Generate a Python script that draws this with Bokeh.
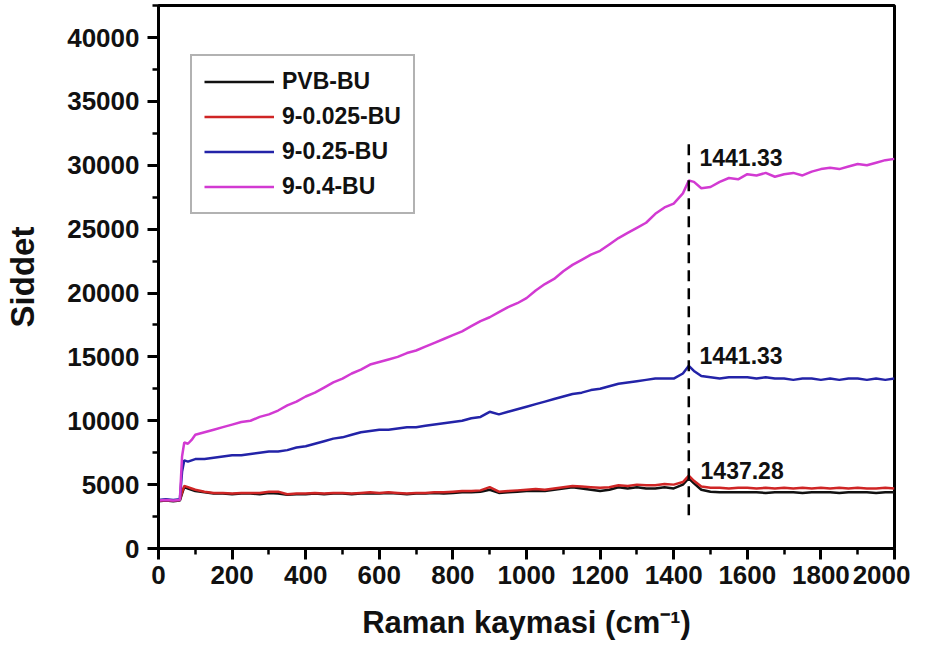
from bokeh.plotting import figure
from bokeh.models import Range1d, Label, FixedTicker, Legend, LegendItem
from bokeh.embed import file_html
from bokeh.resources import INLINE

# ---- data ----
x = [0, 20, 40, 58, 64, 70, 80, 90,
     100, 125, 150, 175, 200, 225, 250, 275, 300, 325, 350, 375,
     400, 425, 450, 475, 500, 525, 550, 575, 600, 625, 650, 675,
     700, 725, 750, 775, 800, 825, 850, 875, 900, 925, 950, 975,
     1000, 1025, 1050, 1075, 1100, 1125, 1150, 1175, 1200, 1225, 1250, 1275,
     1300, 1325, 1350, 1375, 1400, 1425, 1441, 1455, 1475,
     1500, 1525, 1550, 1575, 1600, 1625, 1650, 1675, 1700, 1725, 1750, 1775,
     1800, 1825, 1850, 1875, 1900, 1925, 1950, 1975, 2000]

pvb_bu = [3700, 3750, 3700, 3750, 4300, 4800, 4700, 4600,
          4500, 4400, 4300, 4300, 4250, 4300, 4300, 4250, 4350, 4300, 4200, 4250,
          4250, 4300, 4250, 4300, 4300, 4250, 4300, 4300, 4300, 4350, 4300, 4250,
          4300, 4300, 4350, 4300, 4350, 4400, 4400, 4450, 4600, 4350, 4400, 4450,
          4500, 4500, 4500, 4600, 4700, 4800, 4700, 4600, 4500, 4600, 4800, 4700,
          4800, 4700, 4700, 4800, 4700, 5000, 5500, 5100, 4600,
          4450, 4400, 4400, 4400, 4400, 4400, 4350, 4400, 4400, 4400, 4350, 4400,
          4400, 4400, 4350, 4400, 4400, 4400, 4350, 4400, 4400]

s_0025 = [3750, 3800, 3750, 3800, 4400, 4900, 4800, 4700,
          4600, 4450, 4350, 4350, 4300, 4350, 4350, 4350, 4450, 4450, 4250, 4300,
          4300, 4350, 4300, 4350, 4350, 4300, 4350, 4400, 4350, 4400, 4350, 4300,
          4350, 4350, 4400, 4400, 4450, 4500, 4500, 4550, 4800, 4450, 4500, 4550,
          4600, 4650, 4600, 4700, 4800, 4900, 4850, 4800, 4750, 4800, 4950, 4900,
          5000, 4950, 4950, 5050, 5000, 5200, 5700, 5300, 4850,
          4750, 4750, 4700, 4750, 4750, 4700, 4750, 4700, 4750, 4700, 4750, 4700,
          4750, 4700, 4750, 4700, 4750, 4700, 4700, 4750, 4700]

s_025 = [3800, 3850, 3800, 3850, 6000, 6900, 6800, 6900,
         7000, 7000, 7100, 7200, 7300, 7300, 7400, 7500, 7600, 7600, 7700, 7900,
         8000, 8200, 8400, 8600, 8700, 8900, 9100, 9200, 9300, 9300, 9400, 9500,
         9500, 9600, 9700, 9800, 9900, 10000, 10200, 10300, 10700, 10500, 10700, 10900,
         11100, 11300, 11500, 11700, 11900, 12100, 12200, 12400, 12500, 12700, 12900, 13000,
         13100, 13200, 13300, 13300, 13300, 13700, 14300, 13900, 13500,
         13400, 13300, 13400, 13400, 13400, 13300, 13400, 13300, 13300, 13200, 13300, 13300,
         13200, 13300, 13200, 13300, 13300, 13200, 13300, 13200, 13300]

s_04 = [3750, 3800, 3750, 3800, 7200, 8300, 8200, 8500,
        8900, 9100, 9300, 9500, 9700, 9900, 10000, 10300, 10500, 10800, 11200, 11500,
        11900, 12200, 12600, 13000, 13300, 13700, 14000, 14400, 14600, 14800, 15000, 15300,
        15500, 15800, 16100, 16400, 16700, 17000, 17400, 17800, 18100, 18500, 18900, 19200,
        19600, 20200, 20700, 21100, 21700, 22200, 22600, 23000, 23300, 23800, 24300, 24700,
        25100, 25500, 26200, 26700, 27000, 27800, 28800, 28700, 28200,
        28300, 28700, 29000, 28900, 29300, 29200, 29400, 29100, 29300, 29400, 29200, 29500,
        29700, 29800, 29700, 29900, 30100, 30000, 30200, 30400, 30500]

series_names = ["PVB-BU", "9-0.025-BU", "9-0.25-BU", "9-0.4-BU"]
series_values = [pvb_bu, s_0025, s_025, s_04]
series_colors = ["#111111", "#cf2525", "#2323a8", "#d23ad2"]

peak_x = 1441
peak_labels = ["1441.33", "1441.33", "1437.28"]
peak_label_y = [30600, 15100, 6100]
peak_label_x = [1470, 1470, 1473]
dash_y = (2600, 32000)

x_ticks = list(range(0, 2001, 200))
y_ticks = list(range(0, 40001, 5000))

FONT = "Liberation Sans"

p = figure(frame_width=736, frame_height=543, output_backend="svg",
           toolbar_location=None, x_range=Range1d(0, 2000), y_range=Range1d(0, 42505),
           min_border_left=158, min_border_right=16, min_border_top=5, min_border_bottom=97)

p.xgrid.visible = False
p.ygrid.visible = False
p.outline_line_color = "black"
p.outline_line_width = 3
p.background_fill_color = "white"
p.border_fill_color = "white"

items = []
for name, vals, col in zip(series_names, series_values, series_colors):
    r = p.line(x, vals, line_color=col, line_width=2.5)
    items.append(LegendItem(label=name, renderers=[r]))

p.segment(x0=[peak_x], y0=[dash_y[0]], x1=[peak_x], y1=[dash_y[1]],
          line_color="black", line_width=2.5, line_dash="11 7")

for t, lx, ly in zip(peak_labels, peak_label_x, peak_label_y):
    p.add_layout(Label(x=lx, y=ly, text=t, text_font=FONT, text_font_style="bold",
                       text_font_size="23px", text_color="#111111",
                       text_baseline="alphabetic", text_align="left"))

for ax in (p.xaxis[0], p.yaxis[0]):
    ax.axis_line_width = 3
    ax.major_tick_line_width = 3
    ax.minor_tick_line_width = 2.5
    ax.major_tick_in = 0
    ax.major_tick_out = 11
    ax.minor_tick_in = 0
    ax.minor_tick_out = 6
    ax.major_label_text_font = FONT
    ax.major_label_text_font_style = "bold"
    ax.major_label_text_font_size = "26px"
    ax.major_label_text_color = "#111111"
    ax.axis_label_text_font = FONT
    ax.axis_label_text_font_style = "bold"
    ax.axis_label_text_color = "#111111"

p.xaxis[0].ticker = FixedTicker(ticks=x_ticks, minor_ticks=list(range(0, 2001, 100)))
p.yaxis[0].ticker = FixedTicker(ticks=y_ticks, minor_ticks=list(range(0, 42501, 2500)))
p.xaxis[0].major_label_standoff = 6
p.yaxis[0].major_label_standoff = 8
p.xaxis[0].axis_label = "Raman kaymasi (cm\u207b\u00b9)"
p.yaxis[0].axis_label = "Siddet"
p.xaxis[0].axis_label_text_font_size = "31px"
p.yaxis[0].axis_label_text_font_size = "33px"
p.xaxis[0].axis_label_standoff = 18
p.yaxis[0].axis_label_standoff = 23

legend = Legend(items=items, location=(32, 334))
legend.label_text_font = FONT
legend.label_text_font_style = "bold"
legend.label_text_font_size = "23px"
legend.label_text_color = "#111111"
legend.glyph_width = 70
legend.glyph_height = 27
legend.label_height = 27
legend.spacing = 8
legend.padding = 12
legend.margin = 0
legend.label_standoff = 8
legend.border_line_color = "#666666"
legend.border_line_width = 2
legend.background_fill_alpha = 1
p.add_layout(legend, "center")

open("out.html", "w").write(file_html(p, INLINE))
